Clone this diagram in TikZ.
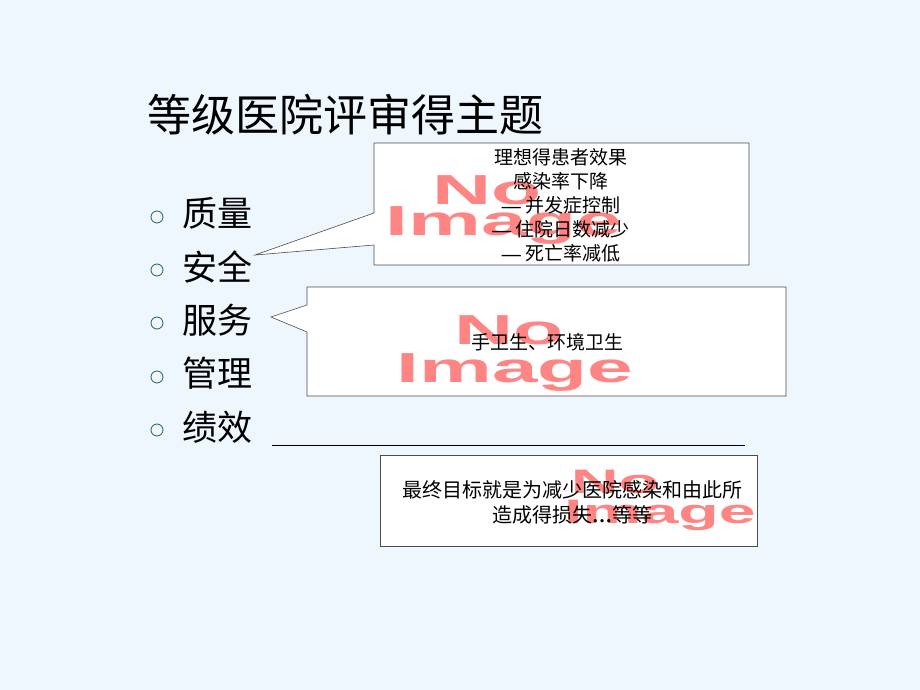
\documentclass[tikz,border=0pt]{standalone}
\usepackage{fontspec}
\setmainfont{Liberation Serif}
\newfontfamily\cjk{Noto Sans CJK SC}
\newfontfamily\phfont{Liberation Sans}
\definecolor{slidebg}{HTML}{EEF6FE}
\definecolor{phpink}{HTML}{FF8585}
\definecolor{bullet}{HTML}{1F5F5F}
\begin{document}
\begin{tikzpicture}[x=1pt,y=-1pt,
    topic/.style ={anchor=west, font=\cjk\fontsize{35}{35}\selectfont, inner sep=0pt},
    dot/.style ={circle, draw=bullet, line width=0.8pt, inner sep=0pt, minimum size=12pt},
    callout/.style ={draw=black!70, fill=white, line width=0.6pt},
    note/.style ={align=center, font=\cjk\fontsize{19}{24}\selectfont, inner sep=0pt},
    noimage/.style ={text=phpink, font=\phfont\bfseries\fontsize{42}{42}\selectfont, inner sep=0pt, xscale=1.95}]
   \fill[slidebg] (0,0) rectangle (920,690);
   \useasboundingbox (0,0) rectangle (920,690);

   \node[anchor=west, font=\cjk\fontsize{44}{44}\selectfont, inner sep=0pt] (title) at (147,115) {等级医院评审得主题};

   \node[dot] (d1) at (157,217) {};
   \node[dot] (d2) at (157,270) {};
   \node[dot] (d3) at (157,323) {};
   \node[dot] (d4) at (157,377) {};
   \node[dot] (d5) at (157,430) {};
   \node[topic] (q)  at (182,213) {质量};
   \node[topic] (s)  at (182,267) {安全};
   \node[topic] (f)  at (182,320) {服务};
   \node[topic] (g)  at (182,373) {管理};
   \node[topic] (j)  at (182,427) {绩效};

   % first callout
   \coordinate (tip1) at (255,255);
   \draw[callout] (374,143) -- (749,143) -- (749,265) -- (374,265) -- (374,245)
      -- (tip1) -- (374,213) -- cycle;
   \node[noimage] (no1) at (487,190) {No};
   \node[noimage] (im1) at (504,226) {Image};
   \node[note] (n1) at (561,205) {理想得患者效果\\感染率下降\\{\rmfamily\bfseries —} 并发症控制\\{\rmfamily\bfseries —} 住院日数减少\\{\rmfamily\bfseries —} 死亡率减低};

   % second callout
   \coordinate (tip2) at (271,317);
   \draw[callout] (307,287) -- (786,287) -- (786,396) -- (307,396) -- (307,332)
      -- (tip2) -- (307,305) -- cycle;
   \node[noimage] (no2) at (509,330) {No};
   \node[noimage] (im2) at (515,372) {Image};
   \node[note] (n2) at (547,342) {手卫生、环境卫生};

   \coordinate (u1) at (272,445);
   \coordinate (u2) at (745,445);
   \draw[line width=0.6pt] (u1) -- (u2);

   % third box
   \draw[callout] (380,455) rectangle (757,546);
   \begin{scope}
     \clip (380,455) rectangle (757,546);
     \node[noimage, font=\phfont\bfseries\fontsize{34}{34}\selectfont] (no3) at (615,482) {No};
     \node[noimage, font=\phfont\bfseries\fontsize{34}{34}\selectfont] (im3) at (660,515) {Image};
   \end{scope}
   \node[note, font=\cjk\fontsize{20}{25}\selectfont] (n3) at (572,502) {最终目标就是为减少医院感染和由此所\\造成得损失{\rmfamily\bfseries\ldots}等等};
 \end{tikzpicture}
\end{document}
